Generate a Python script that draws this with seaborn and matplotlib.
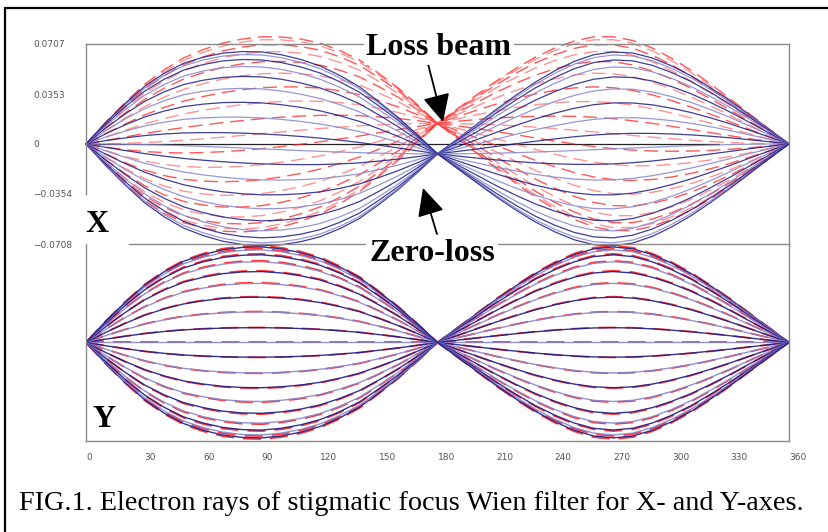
import matplotlib
matplotlib.use("Agg")
import matplotlib.pyplot as plt
from matplotlib.lines import Line2D
from matplotlib.patches import FancyArrowPatch
import seaborn as sns

# beam angle along the filter (degrees)
theta = [0, 10, 20, 30, 40, 50, 60, 70, 80, 90, 100, 110, 120, 130, 140, 150, 160, 170, 180,
         190, 200, 210, 220, 230, 240, 250, 260, 270, 280, 290, 300, 310, 320, 330, 340, 350, 360]
# normalised ray shape
ray_profile = [0, 0.22, 0.42, 0.60, 0.74, 0.85, 0.92, 0.97, 0.995, 1.00, 0.98, 0.94, 0.88, 0.79,
               0.68, 0.53, 0.37, 0.19, 0, -0.15, -0.30, -0.45, -0.59, -0.72, -0.83, -0.92, -0.98,
               -1.00, -0.98, -0.92, -0.83, -0.72, -0.59, -0.45, -0.30, -0.15, 0]
# normalised drift of the focus point (max at 180 deg)
drift_profile = [0, 0.008, 0.03, 0.067, 0.117, 0.179, 0.25, 0.329, 0.413, 0.5, 0.587, 0.671, 0.75,
                 0.821, 0.883, 0.933, 0.970, 0.992, 1.0, 0.992, 0.970, 0.933, 0.883, 0.821, 0.75,
                 0.671, 0.587, 0.5, 0.413, 0.329, 0.25, 0.179, 0.117, 0.067, 0.03, 0.008, 0]
# ray amplitudes (fraction of full scale)
ray_amps = [-0.97, -0.94, -0.89, -0.82, -0.72, -0.60, -0.46, -0.31, -0.15, 0,
            0.15, 0.31, 0.46, 0.60, 0.72, 0.82, 0.89, 0.94, 0.97]
full_scale = 0.0707
x_zero_shift = -0.007   # zero-loss focus shift, X panel
x_loss_shift = 0.0145   # loss beam focus shift, X panel
y_loss_scale = 1.012    # loss beam in Y almost coincides

ytick_vals = [0.0707, 0.0353, 0, -0.0354, -0.0708]
ytick_text = ["0.0707", "0.0353", "0", "\u22120.0354", "\u22120.0708"]
xtick_vals = [0, 30, 60, 90, 120, 150, 180, 210, 240, 270, 300, 330, 360]

sns.set_theme(style="white")
plt.rcParams["font.family"] = ["DejaVu Sans"]

W, H = 829, 532
fig = plt.figure(figsize=(W / 100, H / 100), dpi=100)

def fx(px):
    return px / W

def fy(py):
    return 1 - py / H

ax_x = fig.add_axes([fx(86), fy(244), fx(789) - fx(86), fy(44) - fy(244)])
ax_y = fig.add_axes([fx(86), fy(441), fx(789) - fx(86), fy(244) - fy(441)])

navy = "#1c1c86"
light = "#8585cf"
red = "#ff2020"
pink = "#ff7070"


def rays(ax, amp_scale, shift, colors, dashed, lw, alpha, clip):
    for i, a in enumerate(ray_amps):
        vals = [a * amp_scale * full_scale * p + shift * d
                for p, d in zip(ray_profile, drift_profile)]
        kw = dict(linestyle=(0, (10, 5))) if dashed else {}
        sns.lineplot(x=theta, y=vals, ax=ax, color=colors[i % 2], lw=lw, alpha=alpha,
                     estimator=None, sort=False, **kw)
        ax.lines[-1].set_clip_on(clip)


# X panel
ax_x.axhline(0, xmax=0.9, color="#222222", lw=0.9, zorder=1)
rays(ax_x, 1.0, x_loss_shift, [red, pink], True, 1.0, 0.75, False)
rays(ax_x, 1.0, x_zero_shift, [navy, light], False, 0.9, 0.85, False)

# Y panel
rays(ax_y, y_loss_scale, 0, [red, red], True, 1.3, 0.9, True)
rays(ax_y, 1.0, 0, [navy, light], False, 1.0, 0.9, True)

spine_col = "#8a8a8a"
for ax in (ax_x, ax_y):
    ax.set_xlim(0, 360)
    ax.set_ylim(-0.0708, 0.0707)
    ax.set_facecolor("none")
    ax.set_xlabel("")
    ax.set_ylabel("")
    for s in ax.spines.values():
        s.set_color(spine_col)
        s.set_linewidth(1.0)

ax_x.spines["bottom"].set_visible(False)
ax_x.spines["left"].set_bounds(-0.0354, 0.0707)
ax_x.set_yticks(ytick_vals)
ax_x.set_yticklabels(ytick_text, ha="left", fontsize=6.5, color="#555555")
ax_x.tick_params(axis="y", direction="in", length=12, color=spine_col, pad=38)
for i in (0, 2, 4):
    ax_x.yaxis.get_major_ticks()[i].tick1line.set_visible(False)
ax_x.set_xticks(xtick_vals[1:])
ax_x.set_xticklabels([])
ax_x.tick_params(axis="x", direction="inout", length=6, color=spine_col, width=1)

ax_y.spines["top"].set_bounds(22, 360)
ax_y.set_yticks([])
ax_y.set_xticks(xtick_vals)
ax_y.set_xticklabels([str(v) for v in xtick_vals], ha="left", fontsize=6.5, color="#555555")
ax_y.tick_params(axis="x", direction="in", length=6.5, color=spine_col, width=1, pad=9)

serif = ["Liberation Serif", "DejaVu Serif"]
big = dict(family=serif, fontweight="bold", fontsize=23, color="black", va="baseline")
fig.text(fx(439), fy(55), "Loss beam", ha="center",
         bbox=dict(facecolor="white", edgecolor="none", pad=2), **big)
fig.text(fx(432), fy(261), "Zero-loss", ha="center",
         bbox=dict(facecolor="white", edgecolor="none", pad=2), **big)
fig.text(fx(97), fy(232), "X", ha="center", **big)
fig.text(fx(104), fy(427), "Y", ha="center", **big)

arrow = dict(arrowstyle="-|>,head_length=0.45,head_width=0.22", mutation_scale=38,
             color="black", lw=1.3, shrinkA=0, shrinkB=0)
fig.patches.append(FancyArrowPatch((fx(427), fy(60)), (fx(443), fy(122)),
                                   transform=fig.transFigure, **arrow))
fig.patches.append(FancyArrowPatch((fx(437), fy(234)), (fx(423), fy(188)),
                                   transform=fig.transFigure, **arrow))

fig.text(fx(411), fy(510), "FIG.1. Electron rays of stigmatic focus Wien filter for X- and Y-axes.",
         ha="center", va="baseline", family=serif, fontsize=20.3, color="black")

# outer frame
fig.add_artist(Line2D([fx(5), fx(835)], [fy(8), fy(8)], color="black", lw=1.6))
fig.add_artist(Line2D([fx(5), fx(5)], [fy(8), fy(540)], color="black", lw=1.6))

fig.savefig("out.png", dpi=100, facecolor="white")
